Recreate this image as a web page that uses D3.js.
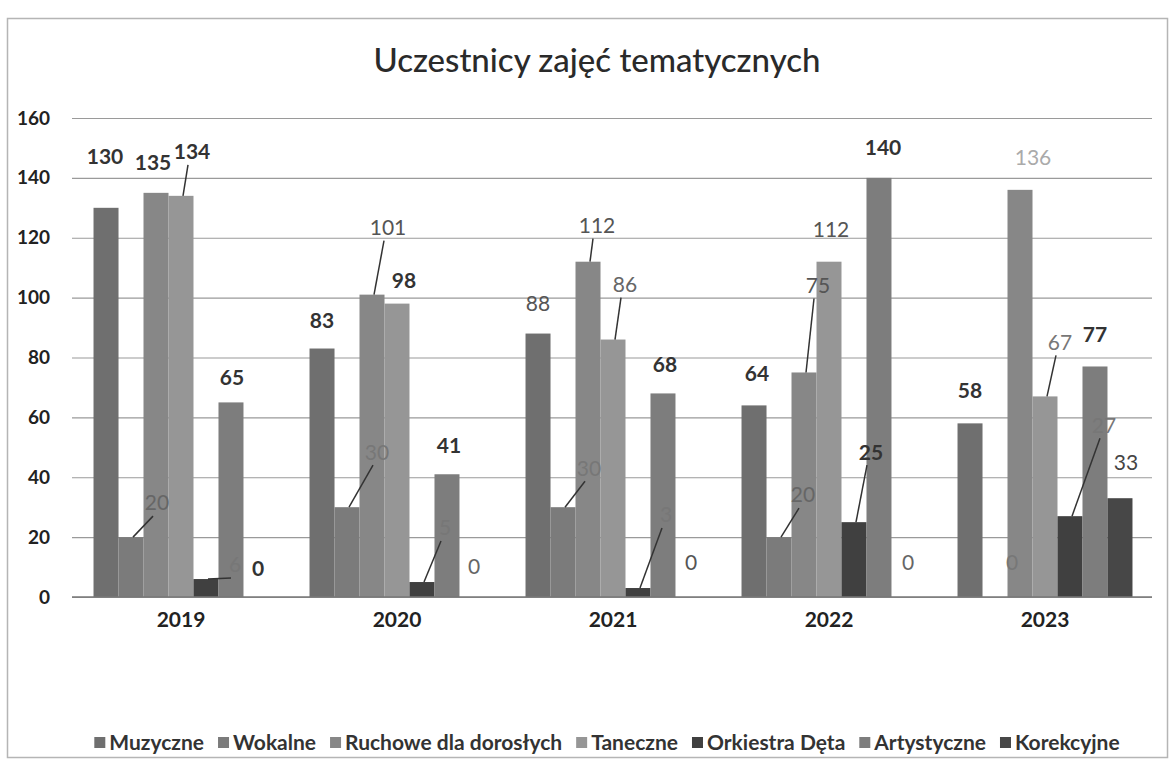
<!DOCTYPE html>
<html>
<head>
<meta charset="utf-8">
<script src="https://cdn.jsdelivr.net/npm/d3@7"></script>
<style>
  body { margin: 0; background: #fff; }
  svg text { font-family: Lato, "Open Sans", sans-serif; }
</style>
</head>
<body>
<div id="chart"></div>
<script>
// ---- data ----
const years = ['2019', '2020', '2021', '2022', '2023'];
const seriesNames = ['Muzyczne', 'Wokalne', 'Ruchowe dla dorosłych', 'Taneczne',
                     'Orkiestra Dęta', 'Artystyczne', 'Korekcyjne'];
const muzyczne    = [130, 83, 88, 64, 58];
const wokalne     = [20, 30, 30, 20, 0];
const ruchowe     = [135, 101, 112, 75, 136];
const taneczne    = [134, 98, 86, 112, 67];
const orkiestra   = [6, 5, 3, 25, 27];
const artystyczne = [65, 41, 68, 140, 77];
const korekcyjne  = [0, 0, 0, 0, 33];
const yTicks = [0, 20, 40, 60, 80, 100, 120, 140, 160];

const seriesValues = [muzyczne, wokalne, ruchowe, taneczne, orkiestra, artystyczne, korekcyjne];

// ---- style / label layout (hand-placed labels, as in the original) ----
const seriesColors = ['#6f6f6f', '#7b7b7b', '#878787', '#969696', '#404040', '#7d7d7d', '#474747'];
// per year, per series: [dx, dy, colour, leader]
const labelLayout = [
  [[-1,-51,'#333'],[26,-34,'#666',1],[-3,-30,'#333'],[11,-44,'#333',1],[29,-14,'#777',1],[1,-25,'#333'],[2,-28,'#333']],
  [[0,-28,'#333'],[30,-55,'#777',1],[16,-67,'#555',1],[7,-23,'#333'],[23,-54,'#777',1],[2,-29,'#333'],[2,-30,'#666']],
  [[0,-30,'#555'],[26,-39,'#777',1],[9,-36,'#555',1],[12,-55,'#666',1],[28,-73,'#777',1],[2,-29,'#333'],[3,-34,'#555']],
  [[3,-32,'#333'],[24,-42,'#666',1],[14,-87,'#555',1],[2,-32,'#555'],[17,-70,'#333',1],[4,-30,'#333'],[4,-34,'#666']],
  [[0,-33,'#333'],[17,-34,'#777'],[13,-32,'#aaa'],[15,-54,'#777',1],[34,-91,'#777',1],[0,-32,'#333'],[6,-36,'#444']]
];

const W = 1174, H = 762;
const svg = d3.select('#chart').append('svg')
  .attr('width', W).attr('height', H);

// chart frame
svg.append('rect')
  .attr('x', 7.5).attr('y', 18.5).attr('width', 1160).attr('height', 739)
  .attr('fill', '#fff').attr('stroke', '#b5b5b5').attr('stroke-width', 1.5);

const x0 = d3.scaleBand()
  .domain(years)
  .range([73, 1153])
  .paddingInner(0.19)
  .paddingOuter(0.095);

const x1 = d3.scaleBand()
  .domain(seriesNames)
  .range([0, x0.bandwidth()]);

const y = d3.scaleLinear()
  .domain([0, 160])
  .range([597, 118]);

// title
svg.append('text')
  .attr('x', 597).attr('y', 72)
  .attr('text-anchor', 'middle')
  .attr('fill', '#2a2a2a')
  .style('font-size', '33px')
  .style('font-weight', '500')
  .text('Uczestnicy zajęć tematycznych');

// grid + y labels
const yAxis = svg.append('g')
  .attr('transform', 'translate(72,0)')
  .call(d3.axisLeft(y).tickValues(yTicks).tickSize(-1080).tickPadding(22));
yAxis.select('.domain').remove();
yAxis.selectAll('.tick line').attr('stroke', '#9a9a9a').attr('stroke-width', 1.2);
yAxis.selectAll('.tick text')
  .attr('fill', '#222').style('font-size', '19px').style('font-weight', 'bold');

// bars
const groups = svg.append('g').selectAll('g')
  .data(years)
  .join('g')
  .attr('transform', d => `translate(${x0(d)},0)`);

groups.selectAll('rect')
  .data((d, i) => seriesNames.map((s, k) => ({ s, k, v: seriesValues[k][i] })))
  .join('rect')
  .attr('x', d => x1(d.s))
  .attr('y', d => y(d.v))
  .attr('width', x1.bandwidth())
  .attr('height', d => y(0) - y(d.v))
  .attr('fill', d => seriesColors[d.k]);

// x axis line + category labels
svg.append('line')
  .attr('x1', 72).attr('x2', 1152).attr('y1', y(0)).attr('y2', y(0))
  .attr('stroke', '#777').attr('stroke-width', 1.5);

const xAxis = svg.append('g')
  .attr('transform', `translate(0,${y(0)})`)
  .call(d3.axisBottom(x0).tickSize(0).tickPadding(15));
xAxis.select('.domain').remove();
xAxis.selectAll('.tick text')
  .attr('fill', '#222').style('font-size', '21px').style('font-weight', 'bold');

// data labels with leader lines
const labels = svg.append('g');
years.forEach((yr, i) => {
  seriesNames.forEach((s, k) => {
    const v = seriesValues[k][i];
    const cx = x0(yr) + x1(s) + x1.bandwidth() / 2;
    const top = y(v);
    const [dx, dy, col, leader] = labelLayout[i][k];
    const lx = cx + dx, ly = top + dy;
    if (leader) {
      labels.append('line')
        .attr('x1', cx + 2).attr('y1', top)
        .attr('x2', lx - 4).attr('y2', ly + 13)
        .attr('stroke', '#333').attr('stroke-width', 1.5);
    }
    labels.append('text')
      .attr('x', lx).attr('y', ly)
      .attr('dy', '0.35em')
      .attr('text-anchor', 'middle')
      .attr('fill', col)
      .style('font-size', '21px')
      .style('font-weight', col === '#333' ? 'bold' : 'normal')
      .text(v);
  });
});

// legend
const legend = svg.append('g');
let lx = 0;
seriesNames.forEach((name, k) => {
  const g = legend.append('g');
  g.append('rect')
    .attr('x', 0).attr('y', -6).attr('width', 11).attr('height', 11)
    .attr('fill', seriesColors[k]);
  const t = g.append('text')
    .attr('x', 15).attr('dy', '0.35em')
    .attr('fill', '#333')
    .style('font-size', '21px').style('font-weight', 'bold')
    .text(name);
  const w = 15 + t.node().getComputedTextLength();
  g.attr('transform', `translate(${lx},0)`);
  lx += w + 14;
});
const legendW = lx - 14;
legend.attr('transform', `translate(${607 - legendW / 2},743)`);
</script>
</body>
</html>
